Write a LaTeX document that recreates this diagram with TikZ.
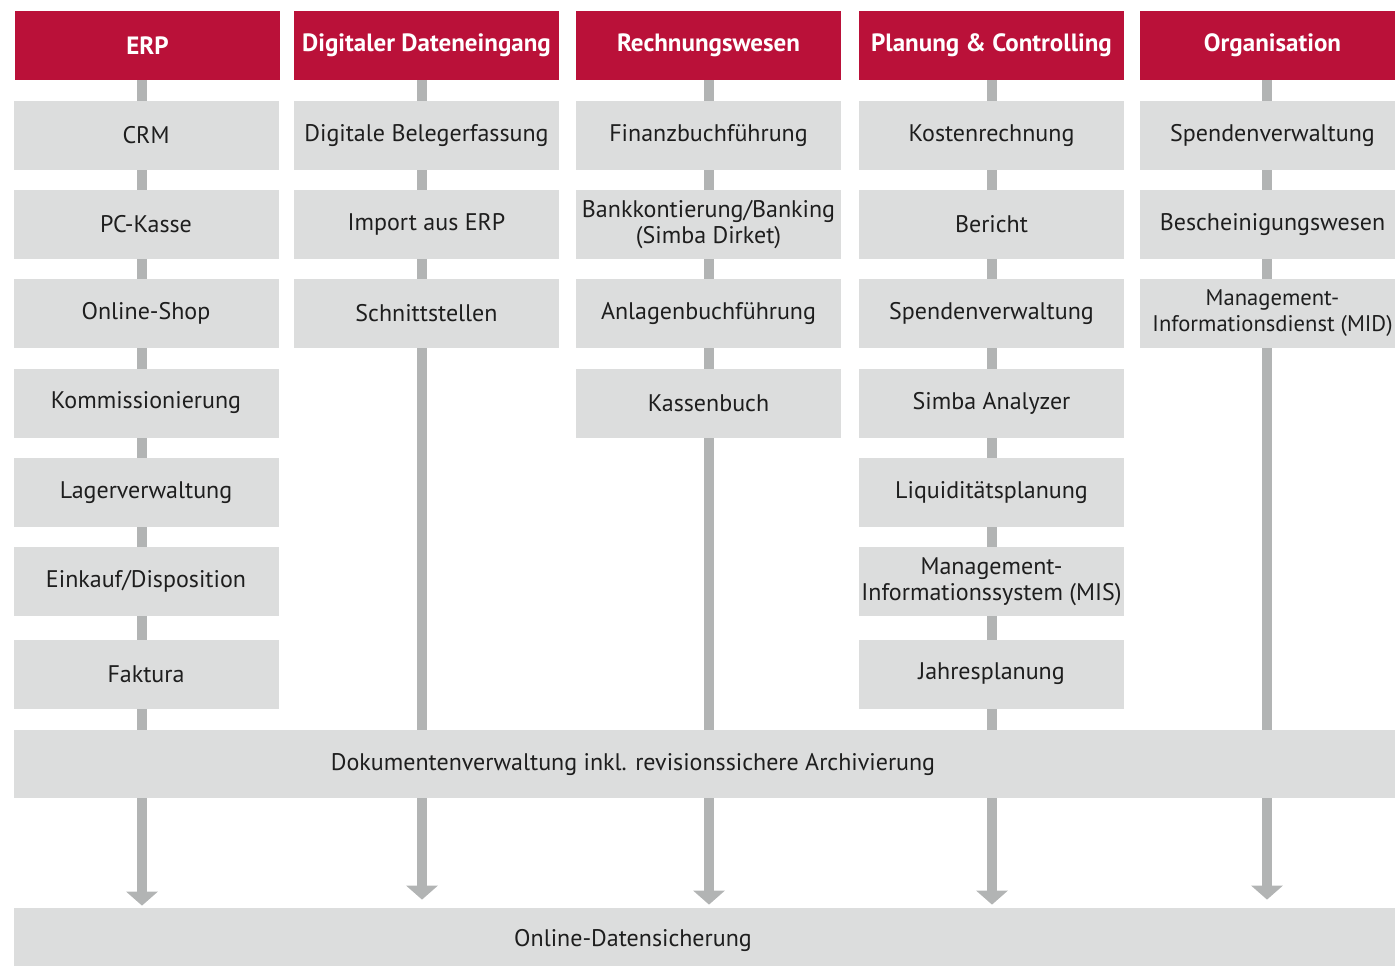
\documentclass[tikz,border=0pt]{standalone}
\usepackage{fontspec}
\setmainfont{PT Sans}
\usetikzlibrary{arrows.meta,backgrounds}
\definecolor{simbared}{HTML}{BA1139}
\definecolor{boxgray}{HTML}{DCDDDD}
\definecolor{linegray}{HTML}{B2B4B4}
\definecolor{txtgray}{HTML}{1E1E1E}

\begin{document}
\begin{tikzpicture}[
        x=0.5pt, y=-0.5pt,
        head/.style={rectangle, fill=simbared, text=white, minimum width=132.5pt, minimum height=34.5pt, inner sep=0pt, font=\fontsize{12.5}{13}\selectfont\bfseries},
        item/.style={rectangle, fill=boxgray, text=txtgray, minimum width=132.5pt, minimum height=34.5pt, inner sep=0pt, align=center, font=\fontsize{12}{13}\selectfont},
        wide/.style={rectangle, fill=boxgray, minimum width=690.5pt, minimum height=34pt, inner sep=0pt},
        caption/.style={text=txtgray, inner sep=0pt, font=\fontsize{12}{13}\selectfont},
        link/.style={draw=linegray, line width=5pt},
        flow/.style={link, -{Triangle[width=15.5pt, length=7pt]}}
    ]
        \useasboundingbox (0,0) rectangle (1395,965);

        % Column axes
        \coordinate (erp_axis) at (142,0);
        \coordinate (dig_axis) at (422,0);
        \coordinate (rw_axis) at (709,0);
        \coordinate (pc_axis) at (992,0);
        \coordinate (org_axis) at (1267,0);

        % ERP column
        \node[head] (erp) at (147.5,45.5) {ERP};
        \node[item] (erp_crm) at (146,135.5) {CRM};
        \node[item] (erp_kasse) at (146,224.5) {PC-Kasse};
        \node[item] (erp_shop) at (146,313.5) {Online-Shop};
        \node[item] (erp_komm) at (146,403) {Kommissionierung};
        \node[item] (erp_lager) at (146,492.5) {Lagerverwaltung};
        \node[item] (erp_einkauf) at (146,581.5) {Einkauf/Disposition};
        \node[item] (erp_faktura) at (146,674) {Faktura};

        % Digitaler Dateneingang column
        \node[head] (dig) at (426.5,45.5) {Digitaler Dateneingang};
        \node[item] (dig_beleg) at (426.5,135.5) {Digitale Belegerfassung};
        \node[item] (dig_import) at (426.5,224.5) {Import aus ERP};
        \node[item] (dig_schnitt) at (426.5,313.5) {Schnittstellen};

        % Rechnungswesen column
        \node[head] (rw) at (708.5,45.5) {Rechnungswesen};
        \node[item] (rw_fibu) at (708.5,135.5) {Finanzbuchführung};
        \node[item] (rw_bank) at (708.5,224.5) {Bankkontierung/Banking\\(Simba Dirket)};
        \node[item] (rw_anlagen) at (708.5,313.5) {Anlagenbuchführung};
        \node[item] (rw_kasse) at (708.5,403) {Kassenbuch};

        % Planung & Controlling column
        \node[head] (pc) at (991.5,45.5) {Planung \& Controlling};
        \node[item] (pc_kosten) at (991.5,135.5) {Kostenrechnung};
        \node[item] (pc_bericht) at (991.5,224.5) {Bericht};
        \node[item] (pc_spenden) at (991.5,313.5) {Spendenverwaltung};
        \node[item] (pc_analyzer) at (991.5,403) {Simba Analyzer};
        \node[item] (pc_liqui) at (991.5,492.5) {Liquiditätsplanung};
        \node[item] (pc_mis) at (991.5,581.5) {Management-\\Informationssystem (MIS)};
        \node[item] (pc_jahr) at (991.5,674) {Jahresplanung};

        % Organisation column
        \node[head] (org) at (1272.5,45.5) {Organisation};
        \node[item] (org_spenden) at (1272.5,135.5) {Spendenverwaltung};
        \node[item] (org_besch) at (1272.5,224.5) {Bescheinigungswesen};
        \node[item, font=\fontsize{11.3}{13}\selectfont] (org_mid) at (1272.5,313.5) {Management-\\Informationsdienst (MID)};

        % Document management and backup
        \node[wide] (dok) at (704.5,764) {};
        \node[caption] (dok_text) at (633,764) {Dokumentenverwaltung inkl. revisionssichere Archivierung};
        \node[wide, minimum height=32pt] (save) at (704.5,940) {};
        \node[caption] (save_text) at (633,940) {Online-Datensicherung};

        % Column lines behind the boxes
        \begin{scope}[on background layer]
            \draw[link] (erp.south -| erp_axis) -- (dok.north -| erp_axis);
            \draw[link] (dig.south -| dig_axis) -- (dok.north -| dig_axis);
            \draw[link] (rw.south -| rw_axis) -- (dok.north -| rw_axis);
            \draw[link] (pc.south -| pc_axis) -- (dok.north -| pc_axis);
            \draw[link] (org.south -| org_axis) -- (dok.north -| org_axis);
        \end{scope}

        % Arrows to the backup
        \draw[flow, shorten >=1pt] (dok.south -| erp_axis) -- (save.north -| erp_axis);
        \draw[flow, shorten >=4pt] (dok.south -| dig_axis) -- (save.north -| dig_axis);
        \draw[flow, shorten >=1.5pt] (dok.south -| rw_axis) -- (save.north -| rw_axis);
        \draw[flow, shorten >=1.5pt] (dok.south -| pc_axis) -- (save.north -| pc_axis);
        \draw[flow, shorten >=4pt] (dok.south -| org_axis) -- (save.north -| org_axis);

    \end{tikzpicture}
\end{document}
